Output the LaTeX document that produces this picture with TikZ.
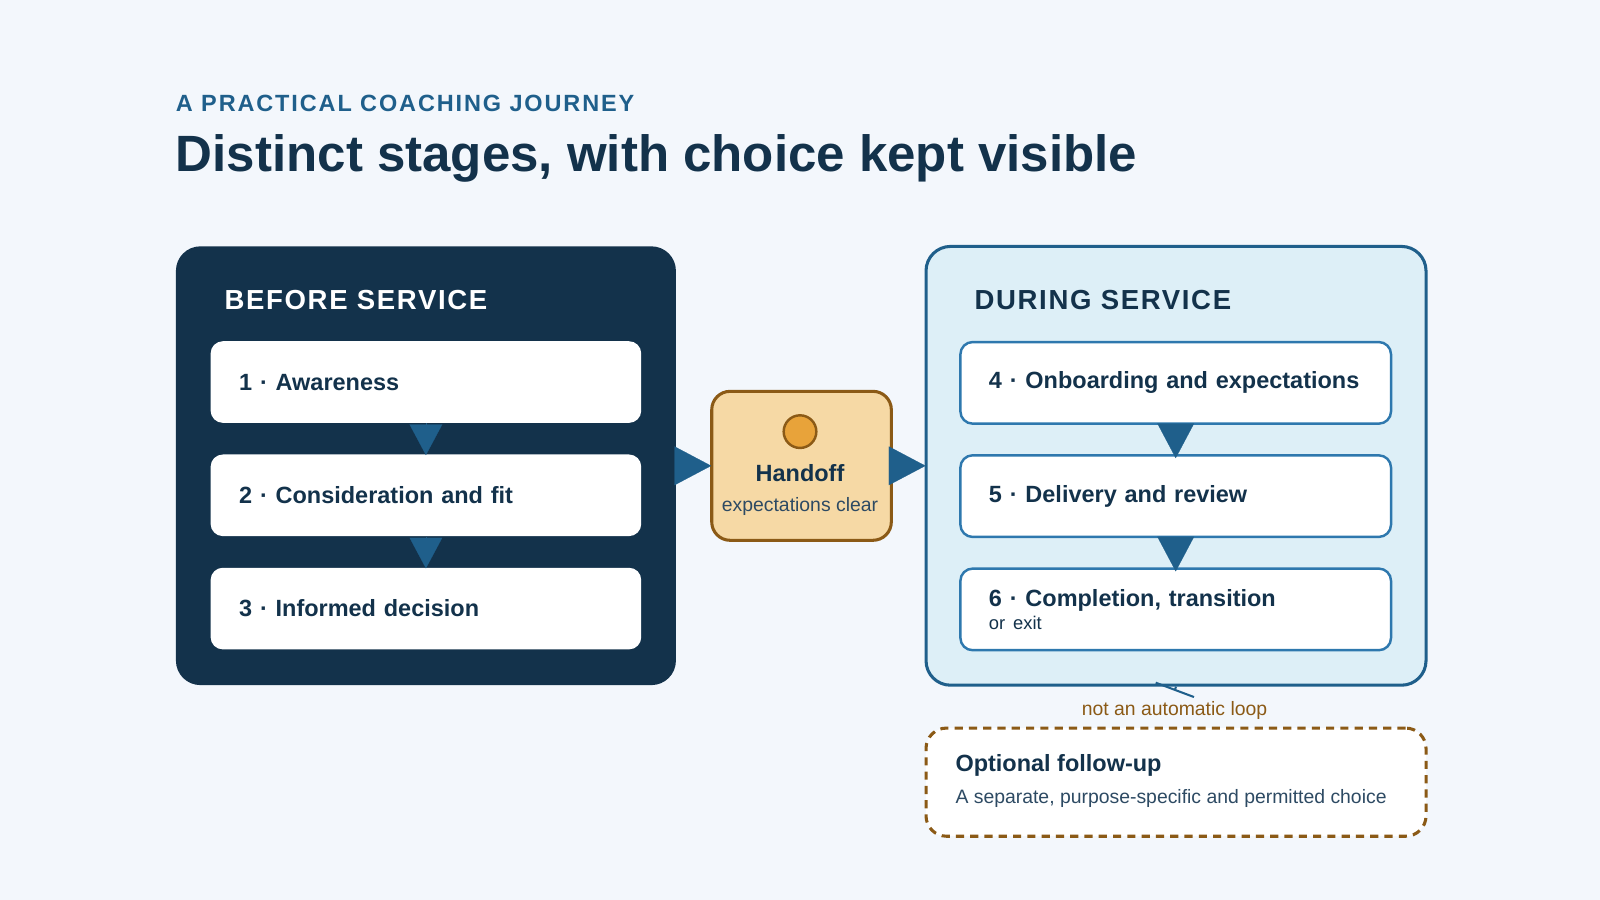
\documentclass[tikz,border=0pt]{standalone}
\usepackage{fontspec}
\setmainfont{Liberation Sans}
\usetikzlibrary{arrows.meta,positioning}
\definecolor{navy}{HTML}{13324B}
\definecolor{steel}{HTML}{1F5F8B}
\definecolor{stroke}{HTML}{2E78AE}
\definecolor{paleblue}{HTML}{DDEFF7}
\definecolor{bg}{HTML}{F3F7FC}
\definecolor{sand}{HTML}{F6D9A5}
\definecolor{brown}{HTML}{8B5A16}
\definecolor{amber}{HTML}{E8A33A}
\definecolor{slate}{HTML}{2D4A63}
\tikzset{
  panel/.style={rounded corners=12pt, anchor=north west, minimum width=245pt, minimum height=215pt},
  stagebox/.style={rounded corners=6pt, anchor=north west, minimum width=211pt, minimum height=40pt,
    inner xsep=14pt, text width=183pt, align=left, text=navy, font=\fontsize{11.5}{13}\selectfont\bfseries},
  flow/.style={-{Triangle[length=15pt,width=16pt]}, steel, line width=0.1pt, shorten >=-0.5pt},
  head/.style={anchor=west, font=\fontsize{13.5}{16}\selectfont\bfseries\addfontfeatures{LetterSpace=6}},
}
\begin{document}
\begin{tikzpicture}[x=0.5pt,y=-0.5pt]
	\fill[bg] (0,0) rectangle (1568,882);
	\useasboundingbox (0,0) rectangle (1568,882);

	% titles
	\node[anchor=west, inner sep=0, text=steel, font=\fontsize{11.5}{14}\selectfont\bfseries\addfontfeatures{LetterSpace=8}] (kicker) at (172,101) {A PRACTICAL COACHING JOURNEY};
	\node[anchor=west, inner sep=0, text=navy, font=\fontsize{25}{30}\selectfont\bfseries] (title) at (172,155) {Distinct stages, with choice kept visible};

	% panels
	\node[panel, fill=navy] (before) at (172,241) {};
	\node[panel, fill=paleblue, draw=steel, line width=1.5pt] (during) at (906,240) {};
	\node[head, text=white] (bhead) at (213,294) {BEFORE SERVICE};
	\node[head, text=navy] (dhead) at (948,294) {DURING SERVICE};

	% stages before
	\node[stagebox, fill=white] (s1) at (206,334) {1 · Awareness};
	\node[stagebox, fill=white] (s2) at (206,445) {2 · Consideration and fit};
	\node[stagebox, fill=white] (s3) at (206,556) {3 · Informed decision};
	\draw[flow] (s1.south) -- (s2.north);
	\draw[flow] (s2.south) -- (s3.north);

	% stages during
	\node[stagebox, fill=white, draw=stroke, line width=1.2pt] (s4) at (940,334) {4 · Onboarding and expectations};
	\node[stagebox, fill=white, draw=stroke, line width=1.2pt] (s5) at (940,445) {5 · Delivery and review};
	\node[stagebox, fill=white, draw=stroke, line width=1.2pt] (s6) at (940,556) {6 · Completion, transition\\[-2pt]{\fontsize{9}{11}\selectfont\mdseries or exit}};
	\draw[flow, -{Triangle[length=17pt,width=18pt]}, shorten >=-2pt] (s4.south) -- (s5.north);
	\draw[flow, -{Triangle[length=17pt,width=18pt]}, shorten >=-2pt] (s5.south) -- (s6.north);

	% handoff
	\node[rounded corners=9pt, fill=sand, draw=brown, line width=1.5pt, anchor=north west, minimum width=88pt, minimum height=73pt] (hand) at (696,382) {};
	\node[circle, fill=amber, draw=brown, line width=1.2pt, minimum size=16pt, inner sep=0] (dot) at (784,423) {};
	\node[text=navy, font=\fontsize{11.5}{13}\selectfont\bfseries] (htitle) at (784,464) {Handoff};
	\node[text=slate, font=\fontsize{9.5}{11}\selectfont] (hsub) at (784,496) {expectations clear};
	\draw[flow, -{Triangle[length=18pt,width=19pt]}] (before.east |- hand.west) -- (hand.west);
	\draw[flow, -{Triangle[length=18pt,width=19pt]}] (hand.east) -- (during.west |- hand.east);

	% optional follow-up
	\coordinate (stub) at (1151,677);
	\draw[steel, line width=1pt, -{Bar[width=20pt]}] (during.south) -- (stub);
	\node[text=brown, font=\fontsize{9.5}{11}\selectfont] (loop) at (1151,696) {not an automatic loop};
	\node[rounded corners=10pt, fill=white, draw=brown, line width=1.5pt, dash pattern=on 4pt off 3pt, anchor=north west, minimum width=245pt, minimum height=53pt] (follow) at (906,712) {};
	\node[anchor=west, text=navy, font=\fontsize{11.5}{13}\selectfont\bfseries, inner sep=0] (ftitle) at (936,750) {Optional follow-up};
	\node[anchor=west, text=slate, font=\fontsize{9.5}{11}\selectfont, inner sep=0] (fsub) at (936,783) {A separate, purpose-specific and permitted choice};
\end{tikzpicture}
\end{document}
